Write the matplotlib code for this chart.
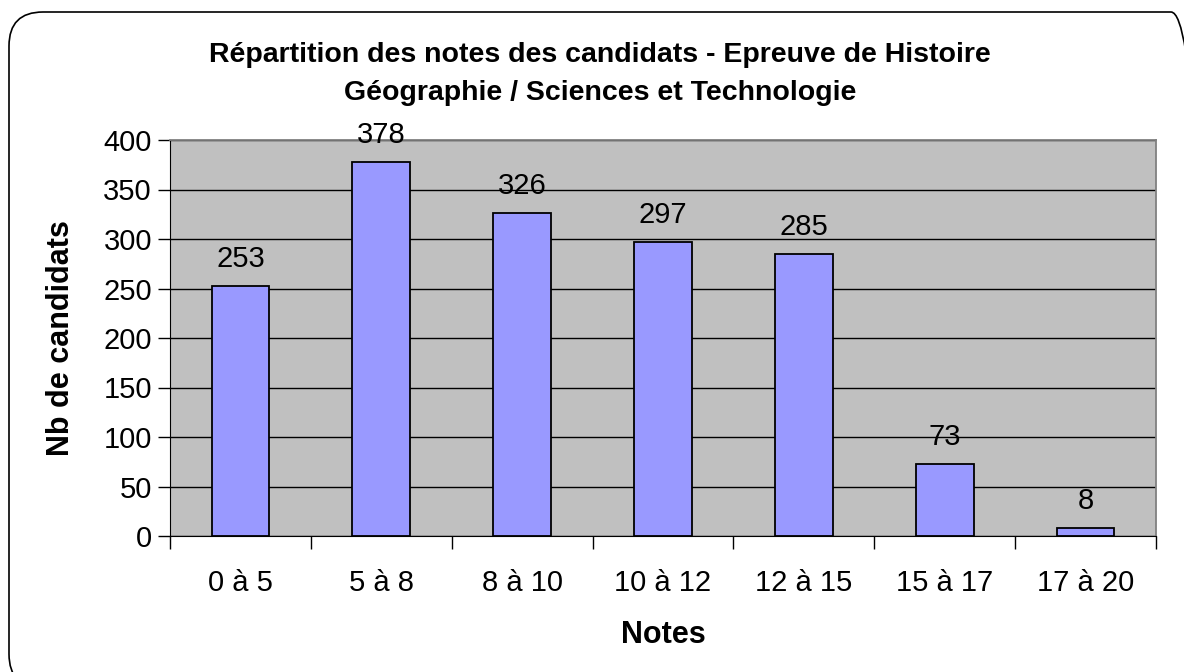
import matplotlib
matplotlib.use("Agg")
import matplotlib.pyplot as plt
from matplotlib.patches import FancyBboxPatch
from matplotlib.transforms import IdentityTransform
import numpy as np

categories = ["0 à 5", "5 à 8", "8 à 10", "10 à 12", "12 à 15", "15 à 17", "17 à 20"]
values = [253, 378, 326, 297, 285, 73, 8]
title = "Répartition des notes des candidats - Epreuve de Histoire\nGéographie / Sciences et Technologie"
xlabel = "Notes"
ylabel = "Nb de candidats"
yticks = [0, 50, 100, 150, 200, 250, 300, 350, 400]

plt.rcParams['font.family'] = ['Liberation Sans', 'DejaVu Sans']

W, H = 1184, 672
fig = plt.figure(figsize=(W / 100, H / 100), dpi=100)
fig.patch.set_facecolor("white")

# rounded border of chart area (pixel coordinates)
border = FancyBboxPatch((9, -16), 1196, 676,
                        boxstyle="round,pad=0,rounding_size=34",
                        transform=IdentityTransform(), fill=False,
                        edgecolor="black", linewidth=1.2)
fig.patches.append(border)

ax = fig.add_axes([170 / W, (H - 536) / H, (1156 - 170) / W, (536 - 140) / H])
ax.set_facecolor("#C0C0C0")

x = np.arange(len(categories))
ax.bar(x, values, width=0.41, color="#9999FF", edgecolor="black", linewidth=1.3, zorder=3)

for xi, v in zip(x, values):
    ax.text(xi, v + 13, str(v), ha="center", va="bottom", fontsize=21, zorder=4)

ax.set_xlim(-0.5, len(categories) - 0.5)
ax.set_ylim(0, 400)
ax.set_yticks(yticks)
ax.set_yticklabels([str(t) for t in yticks], fontsize=21)
ax.yaxis.grid(True, color="black", linewidth=1.0, zorder=1)
ax.set_axisbelow(True)

# ticks at category boundaries, labels at centers
ax.set_xticks(np.arange(len(categories) + 1) - 0.5)
ax.set_xticklabels([])
ax.set_xticks(x, minor=True)
ax.set_xticklabels(categories, minor=True, fontsize=21)
ax.tick_params(axis="x", which="major", length=9, width=1, color="black", direction="out")
ax.tick_params(axis="x", which="minor", length=0, pad=24)
ax.tick_params(axis="y", length=9, width=1, color="black", pad=4)

for s in ["top", "right"]:
    ax.spines[s].set_color("#808080")
    ax.spines[s].set_linewidth(1.3)
ax.spines["left"].set_color("black")
ax.spines["bottom"].set_color("black")

ax.set_xlabel(xlabel, fontsize=22, fontweight="bold", labelpad=16)
ax.set_ylabel(ylabel, fontsize=22, fontweight="bold", labelpad=20)

fig.text(600 / W, 1 - 74 / H, title, ha="center", va="center", fontsize=20.5,
         fontweight="bold", linespacing=1.6)

fig.savefig("out.png", dpi=100)
